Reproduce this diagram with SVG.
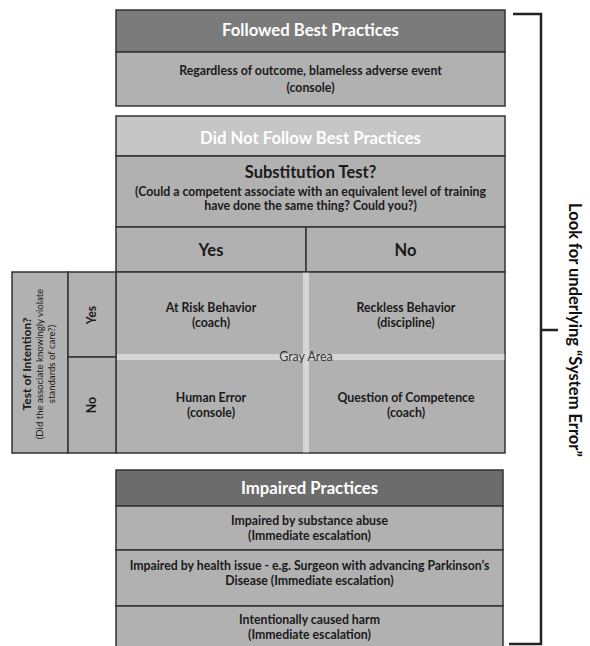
<svg xmlns="http://www.w3.org/2000/svg" width="590" height="646" viewBox="0 0 590 646">
<style>
text{font-family:Lato,"Open Sans","Liberation Sans",sans-serif;text-anchor:middle}
.box{stroke:#333;stroke-width:1.5}
.hd1{fill:#7b7b7b}
.hd2{fill:#c6c6c6}
.hd3{fill:#6c6c6c}
.bd{fill:#b1b1b1}
.wt{fill:#fff;font-weight:bold;font-size:16.7px}
.bt{fill:#1a1a1a;font-weight:bold;font-size:12.3px}
.bh{fill:#1a1a1a;font-weight:bold;font-size:16.5px}
.br{stroke:#222;stroke-width:2.5;fill:none}
</style>
<rect width="590" height="646" fill="#fff"/>
<g id="followed">
<rect class="box hd1" x="116" y="10" width="389" height="42"/>
<rect class="box bd" x="116" y="52" width="389" height="54"/>
<text class="wt" x="310.5" y="36">Followed Best Practices</text>
<text class="bt" x="310.5" y="75">Regardless of outcome, blameless adverse event</text>
<text class="bt" x="310.5" y="92">(console)</text>
</g>
<g id="notfollowed">
<rect class="box hd2" x="116" y="116" width="389" height="40"/>
<text class="wt" x="310.5" y="144">Did Not Follow Best Practices</text>
<rect class="box bd" x="116" y="156" width="389" height="71"/>
<text class="bh" x="310.5" y="178">Substitution Test?</text>
<text class="bt" x="310.5" y="196">(Could a competent associate with an equivalent level of training</text>
<text class="bt" x="310.5" y="210">have done the same thing? Could you?)</text>
</g>
<g id="subyes">
<rect class="box bd" x="116" y="227" width="190" height="45"/>
<text class="bh" x="211" y="256">Yes</text>
</g>
<g id="subno">
<rect class="box bd" x="306" y="227" width="199" height="45"/>
<text class="bh" x="405.5" y="256">No</text>
</g>
<g id="grid">
<rect class="box bd" x="116" y="272" width="389" height="181"/>
<rect x="303" y="272.8" width="6" height="179.5" fill="#d6d6d6"/>
<rect x="116.8" y="354" width="387.5" height="6" fill="#d6d6d6"/>
</g>
<g id="atrisk">
<text class="bt" x="211" y="312">At Risk Behavior</text>
<text class="bt" x="211" y="327">(coach)</text>
</g>
<g id="reckless">
<text class="bt" x="406" y="312">Reckless Behavior</text>
<text class="bt" x="406" y="327">(discipline)</text>
</g>
<g id="humanerror">
<text class="bt" x="211" y="402">Human Error</text>
<text class="bt" x="211" y="417">(console)</text>
</g>
<g id="competence">
<text class="bt" x="406" y="402">Question of Competence</text>
<text class="bt" x="406" y="417">(coach)</text>
</g>
<g id="grayarea">
<text x="306" y="361" font-size="12.4" fill="#333">Gray Area</text>
</g>
<g id="intention">
<rect class="box bd" x="12" y="272" width="56" height="181"/>
<text transform="translate(31,364) rotate(-90)" font-size="12" font-weight="bold" fill="#1a1a1a">Test of Intention?</text>
<text transform="translate(43,364) rotate(-90)" font-size="9.6" fill="#1a1a1a">(Did the associate knowingly violate</text>
<text transform="translate(55,364) rotate(-90)" font-size="9.6" fill="#1a1a1a">standards of care?)</text>
</g>
<g id="intyes">
<rect class="box bd" x="68" y="272" width="48" height="85"/>
<text transform="translate(96,315) rotate(-90)" class="bt" font-size="12.5">Yes</text>
</g>
<g id="intno">
<rect class="box bd" x="68" y="357" width="48" height="96"/>
<text transform="translate(96,405) rotate(-90)" class="bt" font-size="12.5">No</text>
</g>
<g id="impaired">
<rect class="box hd3" x="116" y="470" width="387" height="36"/>
<text class="wt" x="309.5" y="494">Impaired Practices</text>
<rect class="box bd" x="116" y="506" width="387" height="44"/>
<text class="bt" x="309.5" y="525">Impaired by substance abuse</text>
<text class="bt" x="309.5" y="540">(Immediate escalation)</text>
<rect class="box bd" x="116" y="550" width="387" height="56"/>
<text class="bt" x="309.5" y="570">Impaired by health issue - e.g. Surgeon with advancing Parkinson’s</text>
<text class="bt" x="309.5" y="585">Disease (Immediate escalation)</text>
<rect class="box bd" x="116" y="606" width="387" height="44"/>
<text class="bt" x="309.5" y="624">Intentionally caused harm</text>
<text class="bt" x="309.5" y="639">(Immediate escalation)</text>
</g>
<g id="connectors">
<path class="br" d="M513 14 H541 V644 H509"/>
<path class="br" d="M541 330 H558" stroke-width="1.5"/>
</g>
<g id="systemerror">
<text transform="translate(569,330) rotate(90)" font-size="16.5" font-weight="bold" fill="#111">Look for underlying “System Error”</text>
</g>
</svg>
